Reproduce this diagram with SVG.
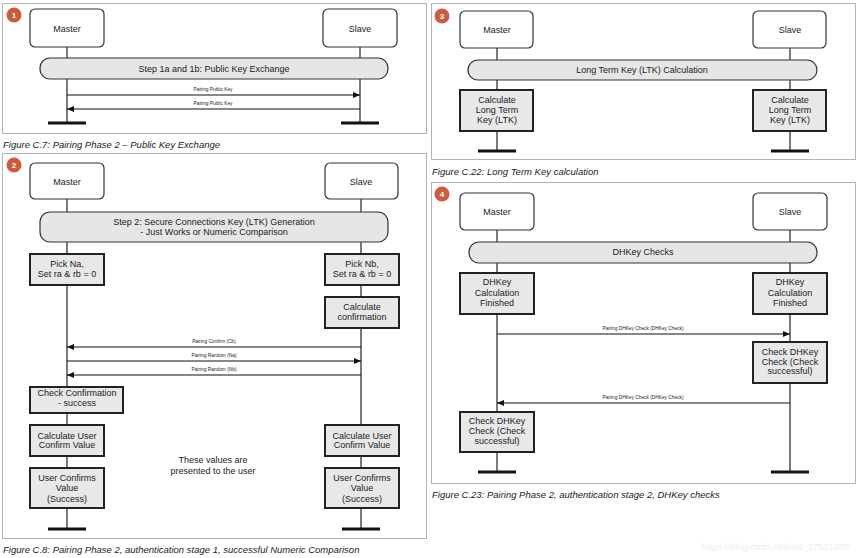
<svg xmlns="http://www.w3.org/2000/svg" width="858" height="558" viewBox="0 0 858 558">
<defs>
<marker id="ah" markerWidth="7" markerHeight="6" refX="7" refY="3" orient="auto" markerUnits="userSpaceOnUse"><path d="M0,0 L7,3 L0,6 z" fill="#111"/></marker>
<style>
text{font-family:"Liberation Sans",Arial,sans-serif;fill:#222}
.frame{fill:#fff;stroke:#b4b4b4;stroke-width:1}
.badge{fill:#cf5b3d}
.bt{font-size:8px;font-weight:bold;fill:#fff;text-anchor:middle}
.actor{fill:#fff;stroke:#333;stroke-width:1.2}
.bar{fill:#e6e6e6;stroke:#333;stroke-width:1.2}
.box{fill:#e8e8e8;stroke:#222;stroke-width:2}
.t{font-size:9px;text-anchor:middle}
.life{stroke:#222;stroke-width:1.2}
.end{stroke:#111;stroke-width:3}
.msg{stroke:#111;stroke-width:1.1;marker-end:url(#ah)}
.lbl{font-size:4.8px;text-anchor:middle}
.cap{font-size:9.5px;font-style:italic}
</style>
</defs>
<rect width="858" height="558" fill="#fff"/>

<!-- Panel frames -->
<g id="frames">
<rect class="frame" x="2.5" y="3.5" width="424" height="130"/>
<rect class="frame" x="2.5" y="153.5" width="424" height="385"/>
<rect class="frame" x="431.5" y="3.5" width="424" height="156"/>
<rect class="frame" x="431.5" y="182.5" width="424" height="301"/>
</g>

<!-- Lifelines -->
<g id="lifelines">
<line class="life" x1="67" y1="47" x2="67" y2="123"/>
<line class="life" x1="360" y1="47" x2="360" y2="123"/>
<line class="end" x1="48" y1="123" x2="86" y2="123"/>
<line class="end" x1="341" y1="123" x2="379" y2="123"/>
<line class="life" x1="67" y1="199" x2="67" y2="529"/>
<line class="life" x1="361" y1="199" x2="361" y2="529"/>
<line class="end" x1="48" y1="529" x2="86" y2="529"/>
<line class="end" x1="342" y1="529" x2="380" y2="529"/>
<line class="life" x1="497" y1="48" x2="497" y2="151"/>
<line class="life" x1="790" y1="48" x2="790" y2="151"/>
<line class="end" x1="478" y1="151" x2="516" y2="151"/>
<line class="end" x1="771" y1="151" x2="809" y2="151"/>
<line class="life" x1="497" y1="230" x2="497" y2="472"/>
<line class="life" x1="790" y1="230" x2="790" y2="472"/>
<line class="end" x1="478" y1="472" x2="516" y2="472"/>
<line class="end" x1="771" y1="472" x2="809" y2="472"/>
</g>

<!-- Panel 1 -->
<g id="badge1"><circle class="badge" cx="14" cy="15" r="7.5"/><text class="bt" x="14" y="18">1</text></g>
<g id="p1-master"><rect class="actor" x="30" y="9" width="74" height="38" rx="5"/><text class="t" x="67" y="32">Master</text></g>
<g id="p1-slave"><rect class="actor" x="323" y="9" width="74" height="38" rx="5"/><text class="t" x="360" y="32">Slave</text></g>
<g id="p1-step"><rect class="bar" x="40" y="58" width="348" height="21" rx="10"/><text class="t" x="214" y="72">Step 1a and 1b: Public Key Exchange</text></g>
<text class="cap" x="3" y="148">Figure C.7:  Pairing Phase 2 – Public Key Exchange</text>

<!-- Panel 2 -->
<g id="badge2"><circle class="badge" cx="14" cy="165" r="7.5"/><text class="bt" x="14" y="168">2</text></g>
<g id="p2-master"><rect class="actor" x="30" y="163" width="74" height="36" rx="5"/><text class="t" x="67" y="185">Master</text></g>
<g id="p2-slave"><rect class="actor" x="325" y="163" width="73" height="36" rx="5"/><text class="t" x="361" y="185">Slave</text></g>
<g id="p2-step"><rect class="bar" x="40" y="212" width="348" height="30" rx="10"/><text class="t" x="214" y="225">Step 2: Secure Connections Key (LTK) Generation</text><text class="t" x="214" y="235">- Just Works or Numeric Comparison</text></g>
<g id="p2-pickna"><rect class="box" x="30" y="254" width="74" height="31"/><text class="t" x="67" y="267">Pick Na,</text><text class="t" x="67" y="277">Set ra &amp; rb = 0</text></g>
<g id="p2-picknb"><rect class="box" x="325" y="254" width="74" height="31"/><text class="t" x="362" y="267">Pick Nb,</text><text class="t" x="362" y="277">Set ra &amp; rb = 0</text></g>
<g id="p2-calcconf"><rect class="box" x="325" y="297" width="74" height="31"/><text class="t" x="362" y="310">Calculate</text><text class="t" x="362" y="320">confirmation</text></g>
<g id="p2-checkconf"><rect class="box" x="30" y="387" width="93" height="26"/><text class="t" x="77" y="396">Check Confirmation</text><text class="t" x="77" y="406">- success</text></g>
<g id="p2-calcuser-m"><rect class="box" x="30" y="425" width="74" height="31"/><text class="t" x="67" y="439">Calculate User</text><text class="t" x="67" y="448">Confirm Value</text></g>
<g id="p2-calcuser-s"><rect class="box" x="325" y="425" width="74" height="31"/><text class="t" x="362" y="439">Calculate User</text><text class="t" x="362" y="448">Confirm Value</text></g>
<g id="p2-userconf-m"><rect class="box" x="30" y="468" width="74" height="40"/><text class="t" x="67" y="481">User Confirms</text><text class="t" x="67" y="491">Value</text><text class="t" x="67" y="502">(Success)</text></g>
<g id="p2-userconf-s"><rect class="box" x="325" y="468" width="74" height="40"/><text class="t" x="362" y="481">User Confirms</text><text class="t" x="362" y="491">Value</text><text class="t" x="362" y="502">(Success)</text></g>
<g id="p2-note"><text class="t" x="213" y="463">These values are</text><text class="t" x="213" y="474">presented to the user</text></g>
<text class="cap" x="3" y="553">Figure C.8:  Pairing Phase 2, authentication stage 1, successful Numeric Comparison</text>

<!-- Panel 3 -->
<g id="badge3"><circle class="badge" cx="442" cy="16" r="7.5"/><text class="bt" x="442" y="19">3</text></g>
<g id="p3-master"><rect class="actor" x="460" y="11" width="73" height="37" rx="5"/><text class="t" x="497" y="33">Master</text></g>
<g id="p3-slave"><rect class="actor" x="753" y="11" width="73" height="37" rx="5"/><text class="t" x="790" y="33">Slave</text></g>
<g id="p3-step"><rect class="bar" x="468" y="60" width="349" height="20" rx="10"/><text class="t" x="642" y="73">Long Term Key (LTK) Calculation</text></g>
<g id="p3-ltk-m"><rect class="box" x="460" y="90" width="73" height="41"/><text class="t" x="497" y="103">Calculate</text><text class="t" x="497" y="113">Long Term</text><text class="t" x="497" y="123">Key (LTK)</text></g>
<g id="p3-ltk-s"><rect class="box" x="753" y="90" width="73" height="41"/><text class="t" x="790" y="103">Calculate</text><text class="t" x="790" y="113">Long Term</text><text class="t" x="790" y="123">Key (LTK)</text></g>
<text class="cap" x="432" y="175">Figure C.22:  Long Term Key calculation</text>

<!-- Panel 4 -->
<g id="badge4"><circle class="badge" cx="442" cy="194" r="7.5"/><text class="bt" x="442" y="197">4</text></g>
<g id="p4-master"><rect class="actor" x="460" y="193" width="74" height="37" rx="5"/><text class="t" x="497" y="215">Master</text></g>
<g id="p4-slave"><rect class="actor" x="753" y="193" width="74" height="37" rx="5"/><text class="t" x="790" y="215">Slave</text></g>
<g id="p4-step"><rect class="bar" x="469" y="242" width="348" height="21" rx="10"/><text class="t" x="643" y="255">DHKey Checks</text></g>
<g id="p4-dhk-m"><rect class="box" x="460" y="273" width="74" height="41"/><text class="t" x="497" y="285">DHKey</text><text class="t" x="497" y="296">Calculation</text><text class="t" x="497" y="306">Finished</text></g>
<g id="p4-dhk-s"><rect class="box" x="753" y="273" width="74" height="41"/><text class="t" x="790" y="285">DHKey</text><text class="t" x="790" y="296">Calculation</text><text class="t" x="790" y="306">Finished</text></g>
<g id="p4-check-s"><rect class="box" x="753" y="342" width="74" height="41"/><text class="t" x="790" y="355">Check DHKey</text><text class="t" x="790" y="365">Check (Check</text><text class="t" x="790" y="374">successful)</text></g>
<g id="p4-check-m"><rect class="box" x="460" y="412" width="74" height="40"/><text class="t" x="497" y="424">Check DHKey</text><text class="t" x="497" y="434">Check (Check</text><text class="t" x="497" y="444">successful)</text></g>
<text class="cap" x="432" y="498">Figure C.23:  Pairing Phase 2, authentication stage 2, DHKey checks</text>

<!-- Connectors -->
<g id="connectors">
<line class="msg" x1="67" y1="95" x2="360" y2="95"/>
<text class="lbl" x="213" y="91">Pairing Public Key</text>
<line class="msg" x1="360" y1="109" x2="67" y2="109"/>
<text class="lbl" x="213" y="105">Pairing Public Key</text>
<line class="msg" x1="361" y1="347" x2="67" y2="347"/>
<text class="lbl" x="214" y="343">Pairing Confirm (Cb)</text>
<line class="msg" x1="67" y1="361" x2="361" y2="361"/>
<text class="lbl" x="214" y="357">Pairing Random (Na)</text>
<line class="msg" x1="361" y1="375" x2="67" y2="375"/>
<text class="lbl" x="214" y="371">Pairing Random (Nb)</text>
<line class="msg" x1="497" y1="334" x2="790" y2="334"/>
<text class="lbl" x="643" y="330">Pairing DHKey Check (DHKey Check)</text>
<line class="msg" x1="790" y1="403" x2="497" y2="403"/>
<text class="lbl" x="643" y="399">Pairing DHKey Check (DHKey Check)</text>
</g>

<text x="850" y="550" text-anchor="end" style="font-size:9.5px;fill:#eeeeee">https://blog.csdn.net/m0_37621078</text>
</svg>
